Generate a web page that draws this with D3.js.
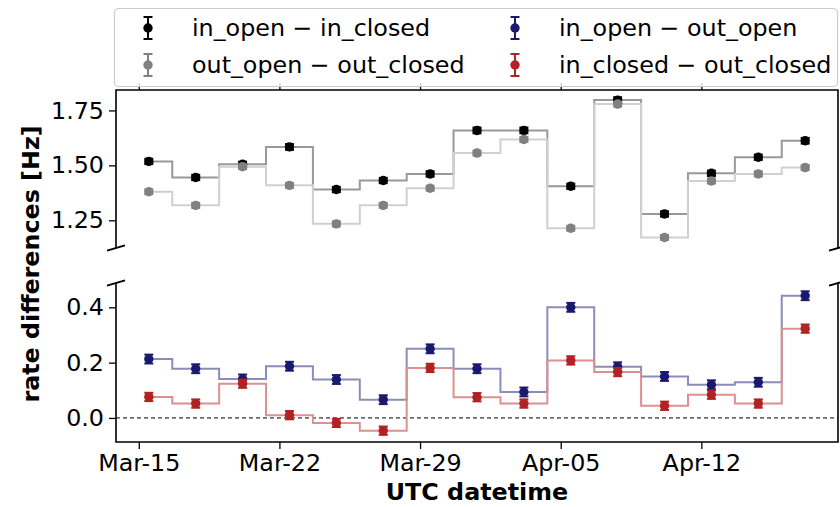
<!DOCTYPE html>
<html>
<head>
<meta charset="utf-8">
<script src="https://cdn.jsdelivr.net/npm/d3@7"></script>
<style>
  html, body { margin: 0; padding: 0; background: #fff; }
  svg { display: block; font-family: "DejaVu Sans", sans-serif; }
</style>
</head>
<body>
<svg id="chart" width="840" height="507"></svg>
<script>
// Bin centres (UTC)
const dates = [
  "2021-03-15T12:00Z", "2021-03-17T20:00Z", "2021-03-20T04:00Z", "2021-03-22T12:00Z",
  "2021-03-24T20:00Z", "2021-03-27T04:00Z", "2021-03-29T12:00Z", "2021-03-31T20:00Z",
  "2021-04-03T04:00Z", "2021-04-05T12:00Z", "2021-04-07T20:00Z", "2021-04-10T04:00Z",
  "2021-04-12T12:00Z", "2021-04-14T20:00Z", "2021-04-17T04:00Z"
];

// Rate differences [Hz] and their uncertainties
const inOpenInClosed   = [1.518, 1.445, 1.505, 1.584, 1.390, 1.431, 1.461, 1.659, 1.659, 1.405, 1.797, 1.279, 1.464, 1.537, 1.612];
const inOpenInClosedErr   = [0.012, 0.012, 0.012, 0.013, 0.012, 0.012, 0.012, 0.013, 0.013, 0.012, 0.013, 0.012, 0.012, 0.012, 0.013];
const outOpenOutClosed = [1.380, 1.318, 1.494, 1.409, 1.234, 1.318, 1.396, 1.556, 1.618, 1.214, 1.779, 1.172, 1.429, 1.461, 1.490];
const outOpenOutClosedErr = [0.011, 0.011, 0.011, 0.011, 0.011, 0.011, 0.011, 0.011, 0.011, 0.011, 0.011, 0.011, 0.011, 0.011, 0.011];
const inOpenOutOpen    = [0.213, 0.178, 0.141, 0.187, 0.139, 0.066, 0.250, 0.178, 0.094, 0.400, 0.185, 0.150, 0.120, 0.129, 0.442];
const inOpenOutOpenErr    = [0.016, 0.016, 0.016, 0.016, 0.016, 0.016, 0.016, 0.016, 0.016, 0.016, 0.016, 0.016, 0.016, 0.016, 0.016];
const inClosedOutClosed = [0.076, 0.052, 0.124, 0.010, -0.018, -0.046, 0.181, 0.075, 0.052, 0.208, 0.166, 0.044, 0.084, 0.052, 0.323];
const inClosedOutClosedErr = [0.015, 0.015, 0.015, 0.015, 0.015, 0.015, 0.015, 0.015, 0.015, 0.015, 0.015, 0.015, 0.015, 0.015, 0.015];

const xTickDates = ["2021-03-15", "2021-03-22", "2021-03-29", "2021-04-05", "2021-04-12"];
const topTicks = [1.25, 1.50, 1.75];
const bottomTicks = [0.0, 0.2, 0.4];

const legendLabels = ["in_open \u2212 in_closed", "out_open \u2212 out_closed",
                      "in_open \u2212 out_open", "in_closed \u2212 out_closed"];

const svg = d3.select("#chart");
const FONT = 23.8;

// Panel geometry
const left = 116, right = 838;
const topPanel = { y0: 90, y1: 248 };
const botPanel = { y0: 283, y1: 442 };

const t = dates.map(d => new Date(d));
const tExt = d3.extent(t);
const pad = (tExt[1] - tExt[0]) * 0.05;
const x = d3.scaleUtc()
  .domain([new Date(+tExt[0] - pad), new Date(+tExt[1] + pad)])
  .range([left, right]);

const yTop = d3.scaleLinear().domain([1.124, 1.843]).range([topPanel.y1, topPanel.y0]);
const yBot = d3.scaleLinear().domain([-0.087, 0.488]).range([botPanel.y1, botPanel.y0]);

const series = [
  { vals: inOpenInClosed,    err: inOpenInClosedErr,    y: yTop, color: "#000000", line: "#999999" },
  { vals: outOpenOutClosed,  err: outOpenOutClosedErr,  y: yTop, color: "#808080", line: "#d0d0d0" },
  { vals: inOpenOutOpen,     err: inOpenOutOpenErr,     y: yBot, color: "#191970", line: "#8c8cb8" },
  { vals: inClosedOutClosed, err: inClosedOutClosedErr, y: yBot, color: "#b22222", line: "#dc9090" }
];

// Zero reference line
svg.append("line")
  .attr("x1", left).attr("x2", right)
  .attr("y1", yBot(0)).attr("y2", yBot(0))
  .attr("stroke", "#000").attr("stroke-width", 1)
  .attr("stroke-dasharray", "4,3");

// Step lines (centred on each bin)
const step = d3.line().curve(d3.curveStep);
series.forEach(s => {
  svg.append("path")
    .attr("d", step(s.vals.map((v, i) => [x(t[i]), s.y(v)])))
    .attr("fill", "none")
    .attr("stroke", s.line)
    .attr("stroke-width", 2);
});

// Error bars and markers
function errMark(g, cx, cy, lo, hi, color) {
  g.append("line").attr("x1", cx).attr("x2", cx).attr("y1", lo).attr("y2", hi)
    .attr("stroke", color).attr("stroke-width", 2);
  [lo, hi].forEach(yy => g.append("line")
    .attr("x1", cx - 4.5).attr("x2", cx + 4.5).attr("y1", yy).attr("y2", yy)
    .attr("stroke", color).attr("stroke-width", 2));
  g.append("circle").attr("cx", cx).attr("cy", cy).attr("r", 4.7).attr("fill", color);
}
series.forEach(s => {
  const g = svg.append("g");
  s.vals.forEach((v, i) => {
    errMark(g, x(t[i]), s.y(v), s.y(v - s.err[i]), s.y(v + s.err[i]), s.color);
  });
});

// Axes
const xTicks = xTickDates.map(d => new Date(d + "T00:00Z"));
const fmt = d3.utcFormat("%b-%d");

function styleAxis(g) {
  g.select(".domain").remove();
  g.selectAll(".tick line").attr("stroke", "#000").attr("stroke-width", 1.3);
  g.selectAll(".tick text").attr("font-size", FONT).attr("fill", "#000")
    .attr("font-family", "DejaVu Sans, sans-serif");
}

svg.append("g").attr("transform", `translate(0,${botPanel.y1})`)
  .call(d3.axisBottom(x).tickValues(xTicks).tickFormat(fmt).tickSize(7).tickPadding(5))
  .call(styleAxis);
svg.append("g").attr("transform", `translate(0,${topPanel.y0})`)
  .call(d3.axisTop(x).tickValues(xTicks).tickFormat("").tickSize(7))
  .call(styleAxis);
svg.append("g").attr("transform", `translate(${left},0)`)
  .call(d3.axisLeft(yTop).tickValues(topTicks).tickFormat(d3.format(".2f")).tickSize(7).tickPadding(5))
  .call(styleAxis);
svg.append("g").attr("transform", `translate(${left},0)`)
  .call(d3.axisLeft(yBot).tickValues(bottomTicks).tickFormat(d3.format(".1f")).tickSize(7).tickPadding(5))
  .call(styleAxis);

// Spines
const spine = { stroke: "#000", "stroke-width": 1.6, fill: "none" };
function path(d) { const p = svg.append("path").attr("d", d); Object.entries(spine).forEach(([k, v]) => p.attr(k, v)); }
path(`M${left},${topPanel.y1}V${topPanel.y0}H${right}V${topPanel.y1}`);
path(`M${left},${botPanel.y0}V${botPanel.y1}H${right}V${botPanel.y0}`);

// Break marks
[[left, topPanel.y1], [right, topPanel.y1], [left, botPanel.y0], [right, botPanel.y0]].forEach(([cx, cy]) => {
  svg.append("line")
    .attr("x1", cx - 9).attr("y1", cy + 2.6).attr("x2", cx + 9).attr("y2", cy - 2.6)
    .attr("stroke", "#000").attr("stroke-width", 2);
});

// Axis labels
svg.append("text")
  .attr("x", (left + right) / 2).attr("y", 500)
  .attr("text-anchor", "middle").attr("font-size", FONT).attr("font-weight", "bold")
  .text("UTC datetime");
svg.append("text")
  .attr("transform", `translate(31,${(topPanel.y0 + botPanel.y1) / 2 - 2}) rotate(-90)`)
  .attr("text-anchor", "middle").attr("dominant-baseline", "central")
  .attr("font-size", FONT).attr("font-weight", "bold")
  .text("rate differences [Hz]");

// Legend
const lg = svg.append("g");
lg.append("rect")
  .attr("x", 114.5).attr("y", 8.5).attr("width", 723).attr("height", 78)
  .attr("rx", 4).attr("fill", "rgba(255,255,255,0.8)")
  .attr("stroke", "#cccccc").attr("stroke-width", 1.2);
const legendPos = [[148, 28], [148, 65], [515, 28], [515, 65]];
series.forEach((s, i) => {
  const [lx, ly] = legendPos[i];
  errMark(lg, lx, ly, ly + 11, ly - 11, s.color);
  lg.append("text")
    .attr("x", lx + 44).attr("y", ly)
    .attr("dominant-baseline", "central")
    .attr("font-size", FONT)
    .text(legendLabels[i]);
});
</script>
</body>
</html>
